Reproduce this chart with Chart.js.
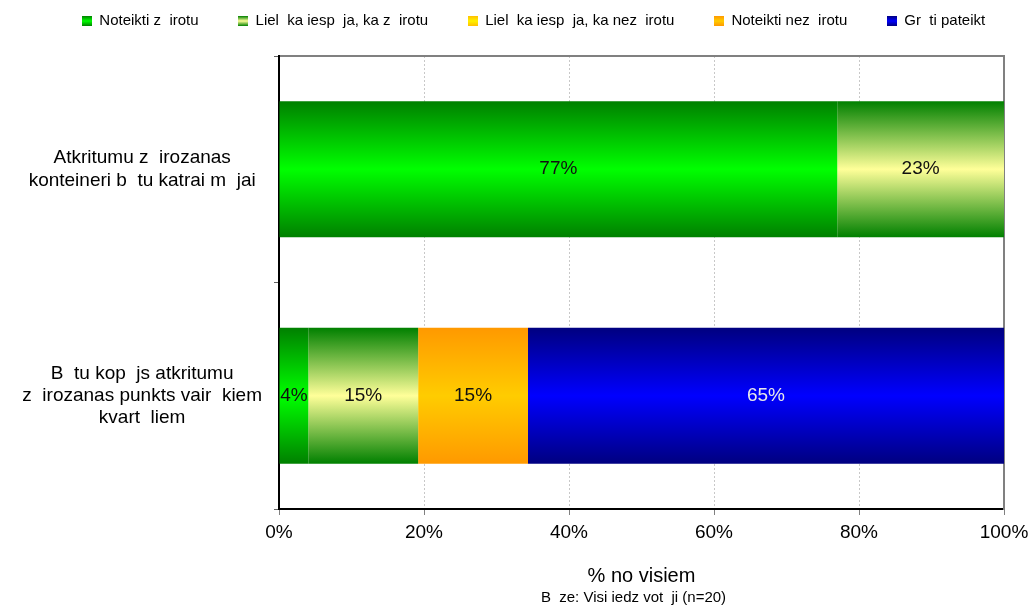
<!DOCTYPE html>
<html>
<head>
<meta charset="utf-8">
<script src="https://cdn.jsdelivr.net/npm/chart.js@4/dist/chart.umd.min.js"></script>
<style>
  html, body { margin: 0; padding: 0; background: #fff; }
  #wrap { width: 1031px; height: 608px; position: relative; }
</style>
</head>
<body>
<div id="wrap"><canvas id="c" width="1031" height="608"></canvas></div>
<script>
// ---- data ----
const categories = [
  ["Atkritumu z  irozanas", "konteineri b  tu katrai m  jai"],
  ["B  tu kop  js atkritumu", "z  irozanas punkts vair  kiem", "kvart  liem"]
];
const seriesNames = [
  "Noteikti z  irotu",
  "Liel  ka iesp  ja, ka z  irotu",
  "Liel  ka iesp  ja, ka nez  irotu",
  "Noteikti nez  irotu",
  "Gr  ti pateikt"
];
const noteiktiSkirotu = [77, 4];
const lielakaSkirotu = [23, 15];
const lielakaNeskirotu = [0, 0];
const noteiktiNeskirotu = [0, 15];
const gruti = [0, 65];
const xTickLabels = ["0%", "20%", "40%", "60%", "80%", "100%"];
const axisTitle = "% no visiem";
const baseNote = "B  ze: Visi iedz vot  ji (n=20)";

// ---- styling ----
const FONT = "'Liberation Sans', Arial, sans-serif";
const gradientStops = [
  ["#008000", "#00FF00"],
  ["#008000", "#FFFF99"],
  ["#FFC000", "#FFF200"],
  ["#FF9900", "#FFCC00"],
  ["#000080", "#0000FF"]
];
const labelColors = ["#111", "#111", "#111", "#111", "#e8e8e8"];
const seriesValues = [noteiktiSkirotu, lielakaSkirotu, lielakaNeskirotu, noteiktiNeskirotu, gruti];

// 100% stacked: normalize by category total (like the spreadsheet did)
const totals = categories.map((_, i) => seriesValues.reduce((s, arr) => s + arr[i], 0));
const BAR_PCT = 0.6;

function barGradient(colors) {
  return (c) => {
    const chart = c.chart;
    const area = chart.chartArea;
    if (!area || c.type !== 'data' || !chart.scales.y) return colors[1];
    const center = chart.scales.y.getPixelForValue(c.dataIndex);
    const band = (area.bottom - area.top) / categories.length;
    const half = band * BAR_PCT / 2;
    const g = chart.ctx.createLinearGradient(0, center - half, 0, center + half);
    g.addColorStop(0, colors[0]);
    g.addColorStop(0.5, colors[1]);
    g.addColorStop(1, colors[0]);
    return g;
  };
}

function legendIcon(colors) {
  const cv = document.createElement('canvas');
  cv.width = 10; cv.height = 10;
  const x = cv.getContext('2d');
  const g = x.createLinearGradient(0, 0, 0, 10);
  g.addColorStop(0, colors[0]);
  g.addColorStop(0.5, colors[1]);
  g.addColorStop(1, colors[0]);
  x.fillStyle = g;
  x.fillRect(0, 0, 10, 10);
  return cv;
}
const legendIcons = gradientStops.map(legendIcon);

const datasets = seriesNames.map((name, s) => ({
  label: name,
  data: seriesValues[s].map((v, i) => v / totals[i] * 100),
  rawValues: seriesValues[s],
  backgroundColor: barGradient(gradientStops[s]),
  borderWidth: 0,
  barPercentage: BAR_PCT,
  categoryPercentage: 1.0
}));

const valueLabels = {
  id: 'valueLabels',
  afterDatasetsDraw(chart) {
    const ctx = chart.ctx;
    ctx.save();
    ctx.font = "19px " + FONT;
    ctx.textAlign = "center";
    ctx.textBaseline = "middle";
    chart.data.datasets.forEach((ds, di) => {
      const meta = chart.getDatasetMeta(di);
      ctx.fillStyle = labelColors[di];
      meta.data.forEach((el, i) => {
        const raw = ds.rawValues[i];
        if (!raw) return;
        ctx.fillText(raw + "%", (el.x + el.base) / 2, el.y);
      });
    });
    ctx.restore();
  }
};

const baseNotePlugin = {
  id: 'baseNote',
  afterDraw(chart) {
    const ctx = chart.ctx;
    const a = chart.chartArea;
    ctx.save();
    ctx.font = "15px " + FONT;
    ctx.fillStyle = "#000";
    ctx.textAlign = "center";
    ctx.textBaseline = "middle";
    ctx.fillText(baseNote, (a.left + a.right) / 2 - 8, chart.height - 10);
    ctx.restore();
  }
};

new Chart(document.getElementById('c'), {
  type: 'bar',
  data: { labels: categories, datasets },
  plugins: [valueLabels, baseNotePlugin],
  options: {
    indexAxis: 'y',
    responsive: false,
    animation: false,
    devicePixelRatio: 1,
    layout: { padding: { top: -26, left: 22, right: -14, bottom: 20 } },
    plugins: {
      tooltip: { enabled: false },
      legend: {
        position: 'top',
        labels: {
          font: { size: 15, family: FONT },
          color: '#000',
          padding: 39.5,
          boxWidth: 10,
          boxHeight: 10,
          usePointStyle: true,
          generateLabels(chart) {
            const items = Chart.defaults.plugins.legend.labels.generateLabels(chart);
            items.forEach((it, i) => { it.pointStyle = legendIcons[i]; it.lineWidth = 0; });
            return items;
          }
        }
      }
    },
    scales: {
      x: {
        type: 'linear',
        stacked: true,
        min: 0,
        max: 100,
        position: 'bottom',
        afterFit(s) { s.height = 79; s.paddingRight = 0; },
        ticks: {
          stepSize: 20,
          font: { size: 19, family: FONT },
          color: '#000',
          padding: 6.5,
          callback: (v, i) => xTickLabels[i]
        },
        grid: {
          drawTicks: true,
          tickLength: 6,
          tickColor: '#808080',
          color: (c) => {
            if (c.type !== 'tick') return '#c8c8c8';
            if (c.tick.value === 0 || c.tick.value === 100) return 'rgba(0,0,0,0)';
            return '#c8c8c8';
          },
          lineWidth: 1
        },
        border: {
          color: '#000',
          width: 2,
          dash: (c) => (c.type === 'tick') ? [2, 2] : []
        },
        title: {
          display: true,
          text: axisTitle,
          font: { size: 20, family: FONT },
          color: '#000',
          padding: { top: 0, bottom: 0 }
        }
      },
      x2: {
        type: 'linear',
        position: 'top',
        min: 0,
        max: 100,
        afterFit(s) { s.height = 17.5; },
        ticks: { display: false },
        grid: { display: false, drawTicks: false },
        border: { display: true, color: '#808080', width: 2 }
      },
      y: {
        type: 'category',
        stacked: true,
        afterFit(s) { s.width = 257; },
        ticks: {
          crossAlign: 'center',
          padding: 12,
          font: { size: 19, family: FONT, lineHeight: 1.17 },
          color: '#000'
        },
        grid: {
          offset: true,
          drawOnChartArea: false,
          drawTicks: true,
          tickLength: 5,
          tickColor: '#606060'
        },
        border: { color: '#000', width: 2 }
      },
      y2: {
        type: 'category',
        position: 'right',
        offset: true,
        afterFit(s) { s.width = 41; },
        ticks: { display: false },
        grid: { display: false, drawTicks: false },
        border: { display: true, color: '#808080', width: 2 }
      }
    }
  }
});
</script>
</body>
</html>
